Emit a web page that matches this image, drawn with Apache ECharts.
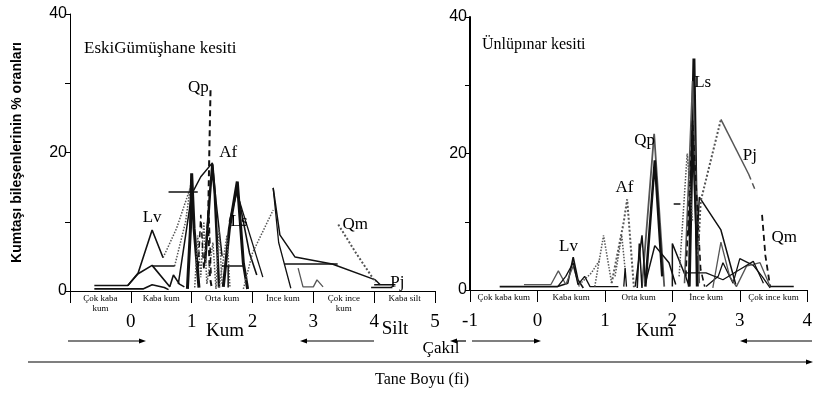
<!DOCTYPE html>
<html>
<head>
<meta charset="utf-8">
<script src="https://cdn.jsdelivr.net/npm/echarts@6/dist/echarts.min.js"></script>
<style>
  html, body { margin: 0; padding: 0; background: #fff; }
  #chart { width: 815px; height: 393px; }
</style>
</head>
<body>
<div id="chart"></div>
<script>
// tick / zone labels
const leftNums = ['', '0', '1', '2', '3', '4', '5'];      // -1 .. 5
const rightNums = ['-1', '0', '1', '2', '3', '4'];        // -1 .. 4
const leftZones = ['Çok kaba\nkum', 'Kaba kum', 'Orta kum', 'İnce kum', 'Çok ince\nkum', 'Kaba silt'];
const rightZones = ['Çok kaba kum', 'Kaba kum', 'Orta kum', 'İnce kum', 'Çok ince kum'];
const yTicks = ['0', '20', '40'];

// Eski Gümüşhane kesiti (fi, %)
const eLvA = [[-0.6,0.8],[-0.05,0.8],[0.12,2.6],[0.35,8.8],[0.53,4.8]];
const eLvB = [[-0.6,0.3],[0.2,0.3],[0.35,0.9],[0.55,0.5],[0.62,0.2]];
const eLvC = [[-0.05,0.8],[0.12,2.5],[0.35,3.7],[0.64,0.6],[0.7,2.3],[0.8,1],[0.88,0.6]];
const eDot1 = [[0.53,4.8],[0.75,9],[1.0,15.5]];
const eDot2 = [[0.72,3.6],[0.9,10],[1.0,16.5]];
const eAf = [[0.78,1],[0.9,8],[1.0,14],[1.15,16.5],[1.34,18.5],[1.4,13],[1.5,5]];
const eSpike1 = [[0.93,0.3],[0.98,9],[1.0,17],[1.04,9],[1.12,0.5]];
const eQp = [[1.31,29],[1.29,20],[1.27,10],[1.3,2],[1.33,0.5]];
const eAfSpike = [[1.22,4],[1.3,14],[1.34,18.3],[1.38,14],[1.45,0.5]];
const eDot3 = [[1.05,0.5],[1.1,8],[1.15,2],[1.2,10],[1.25,1],[1.35,7],[1.4,0.3],[1.45,9],[1.5,1]];
const eDash1 = [[1.1,2],[1.15,11],[1.2,3],[1.28,12],[1.32,2]];
const eLsSpike = [[1.52,0.6],[1.62,9],[1.75,15.8],[1.85,4],[1.92,0.3]];
const eLsA = [[1.62,10],[1.75,14.5],[1.95,5.5],[2.07,2.3]];
const eLsB = [[1.75,14],[2.17,2]];
const eDot4 = [[1.45,0.5],[1.58,8],[1.63,0.5]];
const eDot5 = [[1.85,0.3],[2.0,5.5],[2.34,11.7]];
const eFine = [[2.34,14.9],[2.43,7],[2.63,0.4]];
const eLong = [[2.34,14.9],[2.45,8.1],[2.7,4.9],[3.31,3.9],[4.02,1.6],[4.1,0.9]];
const eWiggle = [[2.75,3.3],[2.83,0.6],[3.0,0.6],[3.06,1.6],[3.16,0.6]];
const eQm = [[3.41,9.6],[3.7,5.5],[4.02,1.3]];
const ePjA = [[4.0,0.9],[4.35,0.9]];
const ePjB = [[3.95,0.5],[4.3,0.5]];
const eFlat1 = [[0.35,3.6],[0.72,3.6]];
const eFlat2 = [[0.62,14.3],[1.1,14.3]];
const eFlat3 = [[1.5,3.6],[1.87,3.6]];
const eFlat4 = [[2.53,3.9],[3.4,3.9]];
const eVert = [[1.6,0.5],[1.6,3.6]];

// Ünlüpınar kesiti (fi, %)
const uLvA = [[-0.56,0.5],[0.3,0.5],[0.45,1],[0.53,4.8],[0.6,1.5],[0.68,0.3]];
const uLvB = [[-0.2,0.8],[0.2,0.8],[0.31,2.8],[0.42,0.8],[0.53,3.5],[0.62,0.5]];
const uLvC = [[0.3,0.5],[0.42,2],[0.53,4],[0.6,0.8],[0.7,2],[0.78,0.5],[1.2,0.5]];
const uDot1 = [[0.62,0.8],[0.8,2.5],[0.93,4.5]];
const uDot2 = [[0.85,0.5],[0.98,8],[1.1,1]];
const uAf = [[1.1,1],[1.28,10],[1.33,13.3],[1.43,0.4]];
const uDot3 = [[1.15,2],[1.25,8],[1.3,3]];
const uThin = [[1.28,0.5],[1.3,3.2],[1.32,0.5]];
const uQp = [[1.55,0.5],[1.73,22.9],[1.88,0.5]];
const uQpB = [[1.6,0.5],[1.74,19],[1.85,2]];
const uMid = [[1.45,0.5],[1.55,8],[1.6,1],[1.74,6.5],[1.95,4],[2.05,0.8]];
const uSpk = [[1.48,0.3],[1.51,6.8],[1.55,0.3]];
const uDash = [[2.02,12.6],[2.12,12.6]];
const uSolid = [[2.0,0.5],[2.0,6.8],[2.2,1.9],[2.25,0.5]];
const uLs = [[2.25,0.5],[2.32,33.9],[2.37,0.5]];
const uLsB = [[2.18,1],[2.3,30.6],[2.4,1]];
const uLsC = [[2.2,2],[2.3,24.8],[2.42,3],[2.48,0.5]];
const uLsD = [[2.24,8],[2.3,22],[2.36,6],[2.4,13.6],[2.72,8.8],[2.94,0.8]];
const uPjDot = [[2.38,5],[2.42,13],[2.72,25]];
const uPj = [[2.72,25],[3.13,17]];
const uPjDash = [[3.13,17],[3.23,14.6]];
const uDot4 = [[2.1,2],[2.22,20],[2.3,10]];
const uQm = [[3.33,11],[3.38,5],[3.45,0.5]];
const uLow1 = [[2.5,0.5],[2.68,2],[2.75,4],[2.9,1],[3.0,4.6],[3.2,3.6],[3.33,2],[3.45,0.3]];
const uLow2 = [[2.6,0.3],[2.72,7],[2.85,2],[2.95,0.5],[3.1,3.5],[3.3,4],[3.45,0.5]];
const uLow3 = [[2.2,2.5],[2.5,2.5],[2.75,1.5],[3.0,3],[3.2,4.2],[3.35,1]];
const uFlat = [[3.45,0.5],[3.8,0.5]];

// component labels
const leftMarks = [['Lv',0.35,10.6],['Qp',1.11,29.4],['Af',1.6,20],['Ls',1.78,10],['Qm',3.69,9.6],['Pj',4.38,1.2]];
const rightMarks = [['Lv',0.46,6.3],['Af',1.29,15],['Qp',1.59,21.9],['Ls',2.45,30.4],['Pj',3.15,19.7],['Qm',3.66,7.7]];

const serif = 'Liberation Serif';
const sans = 'Liberation Sans';
const K = '#111', G = '#555';

function ln(data, panel, type, width, color) {
  return {
    type: 'line', xAxisIndex: panel * 2, yAxisIndex: panel, data: data,
    symbol: 'none', silent: true,
    lineStyle: { type: type, width: width, color: color }
  };
}
function marks(list, panel) {
  return {
    type: 'scatter', xAxisIndex: panel * 2, yAxisIndex: panel, symbolSize: 0,
    itemStyle: { color: '#000', opacity: 1 },
    data: list.map(m => ({ name: m[0], value: [m[1], m[2]] })),
    label: {
      show: true, position: 'inside', formatter: '{b}', color: '#000',
      textBorderWidth: 0, textBorderColor: 'transparent',
      fontFamily: serif, fontSize: 17
    },
    z: 5
  };
}

const dash = [6, 4];
const series = [
  // left
  ln(eLvA, 0, 'solid', 1.6, K), ln(eLvB, 0, 'solid', 1.6, K), ln(eLvC, 0, 'solid', 1.6, K),
  ln(eDot1, 0, 'dotted', 1.5, G), ln(eDot2, 0, 'dotted', 1.5, G),
  ln(eAf, 0, 'solid', 1.5, K), ln(eSpike1, 0, 'solid', 3, K),
  ln(eQp, 0, dash, 2, K), ln(eAfSpike, 0, 'solid', 2.5, K),
  ln(eDot3, 0, 'dotted', 1.5, G), ln(eDash1, 0, dash, 1.5, K),
  ln(eLsSpike, 0, 'solid', 3, K), ln(eLsA, 0, 'solid', 1.6, K), ln(eLsB, 0, 'solid', 1.3, K),
  ln(eDot4, 0, 'dotted', 1.5, G), ln(eDot5, 0, 'dotted', 1.5, G),
  ln(eFine, 0, 'solid', 1.3, K), ln(eLong, 0, 'solid', 1.5, K), ln(eWiggle, 0, 'solid', 1.3, G),
  ln(eQm, 0, 'dotted', 2, G), ln(ePjA, 0, 'solid', 1.5, K), ln(ePjB, 0, 'solid', 1.5, K),
  ln(eFlat1, 0, 'solid', 1.5, K), ln(eFlat2, 0, 'solid', 1.5, K), ln(eFlat3, 0, 'solid', 1.5, K),
  ln(eFlat4, 0, 'solid', 1.5, K), ln(eVert, 0, 'solid', 1.5, K),
  // right
  ln(uLvA, 1, 'solid', 1.6, K), ln(uLvB, 1, 'solid', 1.3, G), ln(uLvC, 1, 'solid', 1.3, K),
  ln(uDot1, 1, 'dotted', 1.5, G), ln(uDot2, 1, 'dotted', 1.5, G), ln(uAf, 1, 'dotted', 2, G),
  ln(uDot3, 1, 'dotted', 1.5, G), ln(uThin, 1, 'solid', 1.3, K),
  ln(uQp, 1, 'solid', 1.8, G), ln(uQpB, 1, 'solid', 2.5, K), ln(uMid, 1, 'solid', 1.5, K),
  ln(uSpk, 1, 'solid', 1.5, K), ln(uDash, 1, 'solid', 1.5, K), ln(uSolid, 1, 'solid', 1.5, K),
  ln(uLs, 1, 'solid', 3, K), ln(uLsB, 1, 'solid', 1.6, G), ln(uLsC, 1, dash, 1.6, K),
  ln(uLsD, 1, 'solid', 1.5, K), ln(uPjDot, 1, 'dotted', 2, G), ln(uPj, 1, 'solid', 1.5, G),
  ln(uPjDash, 1, dash, 1.5, G), ln(uDot4, 1, 'dotted', 1.5, G), ln(uQm, 1, dash, 1.8, K),
  ln(uLow1, 1, 'solid', 1.3, K), ln(uLow2, 1, 'solid', 1.3, G), ln(uLow3, 1, 'solid', 1.3, K),
  ln(uFlat, 1, 'solid', 1.5, K),
  marks(leftMarks, 0), marks(rightMarks, 1)
];

function numAxis(grid, max, labels) {
  return {
    type: 'value', gridIndex: grid, min: -1, max: max, interval: 1,
    splitLine: { show: false },
    axisLine: { show: true, onZero: false, lineStyle: { color: '#000', width: 1.2 } },
    axisTick: { show: true, length: 12, lineStyle: { color: '#000', width: 1 } },
    axisLabel: {
      margin: 22, color: '#000', fontFamily: serif, fontSize: 19,
      showMinLabel: true, showMaxLabel: true,
      formatter: v => labels[Math.round(v + 1)] || ''
    }
  };
}
function zoneAxis(grid, max, zones) {
  return {
    type: 'value', gridIndex: grid, min: -1, max: max, interval: 0.5, position: 'bottom',
    splitLine: { show: false }, axisLine: { show: false, onZero: false }, axisTick: { show: false },
    axisLabel: {
      margin: 3, color: '#000', fontFamily: serif, fontSize: 9, lineHeight: 10,
      verticalAlign: 'top',
      formatter: v => {
        if (Math.abs(v - Math.round(v)) < 0.01) return '';
        return zones[Math.floor(v + 1)] || '';
      }
    }
  };
}
function yAxis(grid, width, name) {
  return {
    type: 'value', gridIndex: grid, min: 0, max: 40, interval: 10,
    splitLine: { show: false },
    axisLine: { show: true, onZero: false, lineStyle: { color: '#000', width: width } },
    axisTick: { show: true, length: 5, lineStyle: { color: '#000' } },
    axisLabel: {
      margin: 3, color: '#000', fontFamily: sans, fontSize: 16,
      formatter: v => yTicks[yTicks.indexOf(String(v))] || ''
    },
    name: name, nameLocation: 'middle', nameGap: 46, nameRotate: 90,
    nameTextStyle: { color: '#000', fontFamily: sans, fontSize: 14, fontWeight: 'bold' }
  };
}

function arrow(x1, x2, y) {
  const d = x2 > x1 ? 1 : -1;
  return [
    { type: 'line', shape: { x1: x1, y1: y, x2: x2 - d * 4, y2: y }, style: { stroke: '#000', lineWidth: 1.2 } },
    { type: 'polygon', shape: { points: [[x2, y], [x2 - d * 7, y - 2.5], [x2 - d * 7, y + 2.5]] }, style: { fill: '#000' } }
  ];
}
function txt(x, y, t, size) {
  return { type: 'text', x: x, y: y, style: { text: t, fill: '#000', font: size + 'px "' + serif + '"', align: 'center', verticalAlign: 'middle' } };
}

const chart = echarts.init(document.getElementById('chart'), null, { renderer: 'canvas' });
chart.setOption({
  animation: false,
  backgroundColor: '#fff',
  title: [
    { text: 'EskiGümüşhane kesiti', left: 79, top: 35, textStyle: { fontFamily: serif, fontSize: 17, fontWeight: 'normal', color: '#000' } },
    { text: 'Ünlüpınar kesiti', left: 477, top: 32, textStyle: { fontFamily: serif, fontSize: 16, fontWeight: 'normal', color: '#000' } }
  ],
  grid: [
    { left: 70, right: 380, top: 14, bottom: 102 },
    { left: 470, right: 2, top: 17, bottom: 103 }
  ],
  xAxis: [numAxis(0, 5, leftNums), zoneAxis(0, 5, leftZones), numAxis(1, 4, rightNums), zoneAxis(1, 4, rightZones)],
  yAxis: [yAxis(0, 1, 'Kumtaşı bileşenlerinin % oranları'), yAxis(1, 2, '')],
  series: series,
  graphic: [].concat(
    arrow(68, 146, 341), arrow(374, 300, 341),
    arrow(466, 450, 341), arrow(472, 541, 341),
    arrow(812, 740, 341),
    arrow(28, 813, 362),
    [
      txt(225, 331, 'Kum', 19), txt(395, 329, 'Silt', 19),
      txt(441, 349, 'Çakıl', 17), txt(655, 331, 'Kum', 19),
      txt(422, 380, 'Tane Boyu (fi)', 16)
    ]
  )
});
</script>
</body>
</html>
